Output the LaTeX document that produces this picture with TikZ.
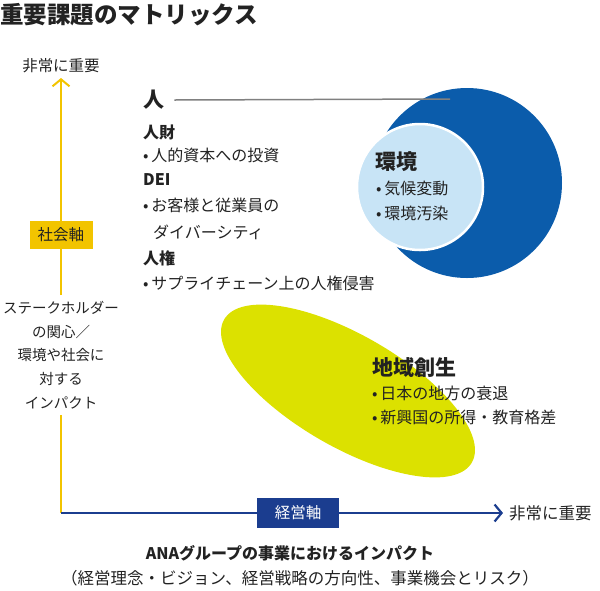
\documentclass[tikz,border=0pt]{standalone}
\usepackage{fontspec}
\setmainfont{Noto Sans CJK JP}
\usetikzlibrary{arrows.meta}

\definecolor{deepblue}{HTML}{0B5CAB}
\definecolor{paleblue}{HTML}{C8E4F6}
\definecolor{limegreen}{HTML}{DCE100}
\definecolor{axisyellow}{HTML}{F2C400}
\definecolor{axisnavy}{HTML}{1B3D8F}
\definecolor{inkgray}{HTML}{222222}

\tikzset{
  txt/.style={anchor=west, inner sep=0pt, text=inkgray, font=\fontsize{16}{19}\selectfont},
  subhead/.style={txt, font=\fontsize{16}{19}\selectfont\bfseries},
  theme/.style={txt, font=\fontsize{21}{25}\selectfont\bfseries},
  axislabel/.style={inner sep=0pt, text=inkgray, font=\fontsize{15.5}{18}\selectfont},
  yaxisbox/.style={fill=axisyellow, text=inkgray, minimum width=63pt, minimum height=28pt, inner sep=0pt, font=\fontsize{15.5}{18}\selectfont},
  xaxisbox/.style={fill=axisnavy, text=white, minimum width=82pt, minimum height=30pt, inner sep=0pt, font=\fontsize{15.5}{18}\selectfont},
  yline/.style={axisyellow, line width=2pt},
  xline/.style={axisnavy, line width=2.2pt},
  chevron/.style={-{Straight Barb[length=7pt,width=17pt]}},
}

\begin{document}
\begin{tikzpicture}[x=1pt,y=-1pt]
  \useasboundingbox (0,0) rectangle (600,590);

  \node[anchor=west, inner sep=0pt, text=inkgray, font=\fontsize{23.5}{26}\selectfont\bfseries] (title) at (0,15) {重要課題のマトリックス};

  % themes
  \fill[deepblue] (467,183) circle (95pt);
  \draw[white, line width=2.5pt, fill=paleblue] (420,187) circle (63pt);
  \fill[limegreen, rotate around={-30:(348,391)}] (348,391) ellipse [x radius=143pt, y radius=56pt];

  % people
  \node[theme] (people) at (143,100) {人};
  \coordinate (peopleend) at (450,99);
  \draw[gray, line width=1.5pt] ([xshift=10pt]people.east) -- (peopleend);
  \foreach \y/\t [count=\k] in {132/人財, 180/DEI, 258/人権}
    \node[subhead] (phead\k) at (143,\y) {\t};
  \foreach \y/\t [count=\k] in {155/人的資本への投資, 205/お客様と従業員の, 283/サプライチェーン上の人権侵害}
    \node[txt] (pitem\k) at (143,\y) {•\,\t};
  \node[txt] (pitemcont) at (153,232) {ダイバーシティ};

  % environment
  \node[theme] (envir) at (375,162) {環境};
  \foreach \y/\t [count=\k] in {188/気候変動, 213/環境汚染}
    \node[txt] (eitem\k) at (376,\y) {•\,\t};

  % region
  \node[theme] (region) at (372,368) {地域創生};
  \foreach \y/\t [count=\k] in {393/日本の地方の衰退, 417/新興国の所得・教育格差}
    \node[txt] (ritem\k) at (372,\y) {•\,\t};

  % axes
  \coordinate (origin) at (61,513);
  \coordinate (ytip) at (61,78);
  \coordinate (xtip) at (503,513);
  \node[axislabel] (ytop) at (61,66) {非常に重要};
  \node[axislabel, anchor=west, font=\fontsize{16.5}{19}\selectfont] (xend) at (509,513) {非常に重要};
  \node[yaxisbox] (socialbox) at (61,235) {社会軸};
  \node[xaxisbox] (bizbox) at (298,513) {経営軸};
  \node[inkgray, align=center, inner sep=0pt, outer sep=6pt, font=\fontsize{14.5}{23.7}\selectfont] (concern) at (61,355)
    {ステークホルダー\\の関心／\\環境や社会に\\対する\\インパクト};
  \draw[yline] (origin) -- (concern.south);
  \draw[yline] (concern.north) -- (socialbox.south);
  \draw[yline, chevron] (socialbox.north) -- (ytip);
  \draw[xline] (origin) -- (bizbox.west);
  \draw[xline, chevron] (bizbox.east) -- (xtip);

  \node[inner sep=0pt, text=inkgray, font=\fontsize{16}{19}\selectfont\bfseries] (impact) at (290,553) {ANAグループの事業におけるインパクト};
  \node[inner sep=0pt, text=inkgray, font=\fontsize{16.5}{19}\selectfont] (scope) at (300,578) {（経営理念・ビジョン、経営戦略の方向性、事業機会とリスク）};
\end{tikzpicture}
\end{document}
